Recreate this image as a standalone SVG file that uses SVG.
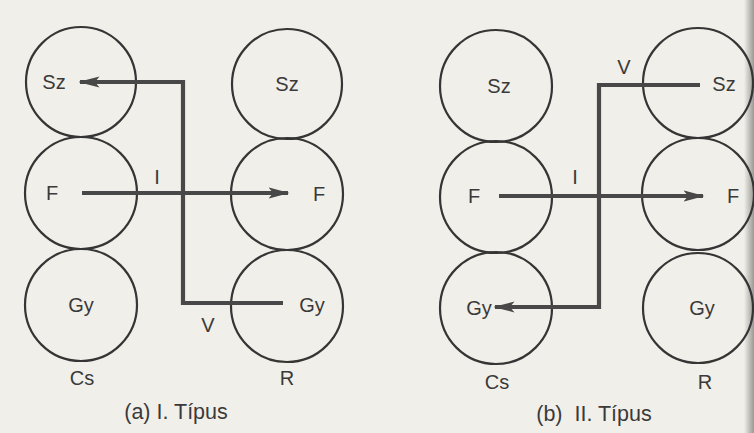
<svg xmlns="http://www.w3.org/2000/svg" width="754" height="433" viewBox="0 0 754 433">
<defs>
<style>
.c{fill:none;stroke:#353535;stroke-width:2.2}
.a{fill:none;stroke:#484848;stroke-width:4.2;stroke-linejoin:miter}
.t{font-family:"Liberation Sans",Arial,sans-serif;font-size:20px;fill:#3a3a3a;text-anchor:middle;dominant-baseline:central}
.cap{font-size:21.5px;white-space:pre}
</style>
<marker id="ah" viewBox="0 0 14 8" refX="13" refY="4" markerWidth="5" markerHeight="2.9" orient="auto" markerUnits="strokeWidth">
<path d="M0,0.3 L14,4 L0,7.7 L3,4 Z" fill="#484848"/>
</marker>
<linearGradient id="edge" x1="0" x2="1" y1="0" y2="0">
<stop offset="0" stop-color="#f1efe9"/>
<stop offset="1" stop-color="#9a9894"/>
</linearGradient>
</defs>
<rect width="754" height="433" fill="#f1efe9"/>
<rect x="744" y="0" width="10" height="433" fill="url(#edge)"/>

<g id="a-Cs-Sz"><circle class="c" cx="81" cy="82" r="55"/><text class="t" x="54" y="82">Sz</text></g>
<g id="a-Cs-F"><circle class="c" cx="81" cy="193" r="56"/><text class="t" x="52" y="193">F</text></g>
<g id="a-Cs-Gy"><circle class="c" cx="81" cy="305" r="56"/><text class="t" x="81" y="305">Gy</text></g>
<g id="a-R-Sz"><circle class="c" cx="287" cy="84" r="55"/><text class="t" x="287" y="84">Sz</text></g>
<g id="a-R-F"><circle class="c" cx="287" cy="194" r="56"/><text class="t" x="319" y="194">F</text></g>
<g id="a-R-Gy"><circle class="c" cx="287" cy="306" r="56"/><text class="t" x="312" y="305">Gy</text></g>

<g id="b-Cs-Sz"><circle class="c" cx="496" cy="86" r="56"/><text class="t" x="499" y="86">Sz</text></g>
<g id="b-Cs-F"><circle class="c" cx="496" cy="197" r="56"/><text class="t" x="474" y="196">F</text></g>
<g id="b-Cs-Gy"><circle class="c" cx="496" cy="308" r="56"/><text class="t" x="479" y="308">Gy</text></g>
<g id="b-R-Sz"><circle class="c" cx="698" cy="83" r="55"/><text class="t" x="724" y="84">Sz</text></g>
<g id="b-R-F"><circle class="c" cx="698" cy="194" r="56"/><text class="t" x="733" y="196">F</text></g>
<g id="b-R-Gy"><circle class="c" cx="698" cy="308" r="55"/><text class="t" x="702" y="308">Gy</text></g>

<g id="connectors">
<polyline class="a" points="283,303 183,303 183,82 80,82" marker-end="url(#ah)"/>
<polyline class="a" points="82,193 288,193" marker-end="url(#ah)"/>
<polyline class="a" points="700,85 599,85 599,307 495,307" marker-end="url(#ah)"/>
<polyline class="a" points="499,196 703,196" marker-end="url(#ah)"/>
</g>

<g id="labels">
<text class="t" x="157" y="177">I</text>
<text class="t" x="208" y="325">V</text>
<text class="t" x="82" y="378">Cs</text>
<text class="t" x="287" y="378">R</text>
<text class="t cap" x="176" y="412">(a) I. Típus</text>
<text class="t" x="575" y="177">I</text>
<text class="t" x="624" y="67">V</text>
<text class="t" x="497" y="382">Cs</text>
<text class="t" x="705" y="382">R</text>
<text class="t cap" x="594" y="414">(b)  II. Típus</text>
</g>
</svg>
